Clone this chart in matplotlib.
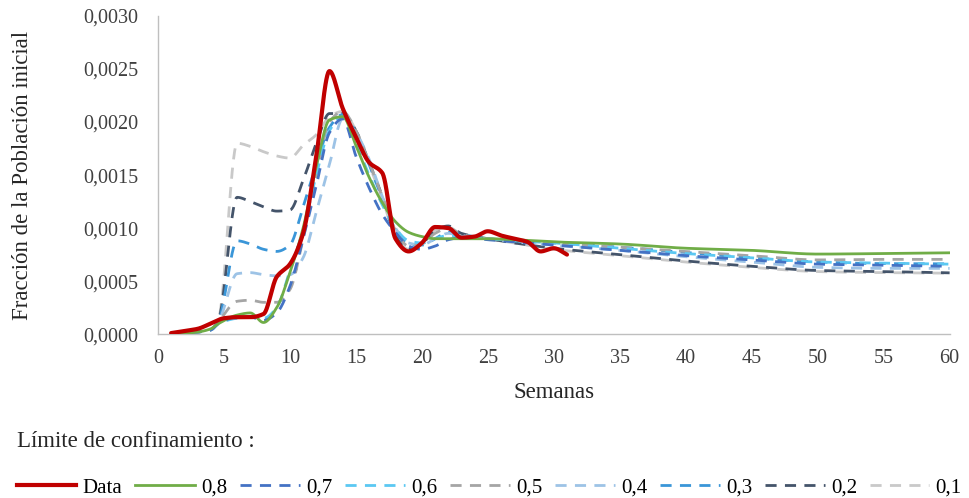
import numpy as np
import matplotlib
matplotlib.use("Agg")
import matplotlib.pyplot as plt
from matplotlib.lines import Line2D

plt.rcParams["font.family"] = ["Liberation Serif", "DejaVu Serif"]

# Observed weekly data (fraction of the initial population)
weeks_data = list(range(1, 32))
data_values = [0.00001, 0.00003, 0.00005, 0.00010, 0.00015, 0.00016, 0.00016, 0.00019,
               0.00054, 0.00066, 0.00095, 0.00168, 0.00248, 0.00213, 0.00186, 0.00162,
               0.00152, 0.00090, 0.00078, 0.00086, 0.00101, 0.00100, 0.00091, 0.00092,
               0.00097, 0.00093, 0.00090, 0.00087, 0.00078, 0.00081, 0.00075]

# Simulation grid (weeks)
weeks_sim = [1, 2, 3, 4, 4.6, 6, 7, 8, 9, 10, 11, 12, 13, 14, 15, 16, 17, 18, 19, 20,
             21, 22, 23, 25, 27, 30, 35, 40, 45, 50, 55, 60]

# Simulated curves for each lockdown threshold
sim_08 = [0.00001, 0.00001, 0.00002, 0.00005, 0.00010, 0.00018, 0.00020, 0.00011, 0.00025,
          0.00058, 0.00100, 0.00158, 0.00202, 0.00205, 0.00178, 0.00148, 0.00124, 0.00106,
          0.00096, 0.00092, 0.00090, 0.00090, 0.00090, 0.00090, 0.00089, 0.00087, 0.00085,
          0.00081, 0.00079, 0.000755, 0.00076, 0.000767]
sim_07 = [0.00001, 0.00001, 0.00002, 0.00004, 0.00010, 0.00016, 0.00016, 0.00013, 0.00020,
          0.00045, 0.00090, 0.00140, 0.00190, 0.00203, 0.00168, 0.00138, 0.00113, 0.00096,
          0.00083, 0.00080, 0.00083, 0.00089, 0.00091, 0.00089, 0.00087, 0.00084, 0.00079,
          0.00074, 0.00070, 0.00066, 0.00065, 0.00064]
sim_06 = [0.00001, 0.00001, 0.00002, 0.00004, 0.00010, 0.00015, 0.00016, 0.00015, 0.00025,
          0.00060, 0.00098, 0.00150, 0.00192, 0.00205, 0.00180, 0.00150, 0.00122, 0.00100,
          0.00088, 0.00086, 0.00090, 0.00093, 0.00092, 0.00090, 0.00088, 0.00086, 0.00081,
          0.00076, 0.00072, 0.00068, 0.00067, 0.00066]
sim_05 = [0.00001, 0.00001, 0.00002, 0.00004, 0.00012, 0.00031, 0.00032, 0.00030, 0.00030,
          0.00042, 0.00090, 0.00150, 0.00200, 0.00210, 0.00192, 0.00162, 0.00130, 0.00098,
          0.00083, 0.00085, 0.00095, 0.00100, 0.00094, 0.00090, 0.00088, 0.00086, 0.00082,
          0.00078, 0.00074, 0.00070, 0.000705, 0.000705]
sim_04 = [0.00001, 0.00001, 0.00002, 0.00004, 0.00012, 0.00057, 0.00058, 0.00056, 0.00055,
          0.00056, 0.00072, 0.00115, 0.00160, 0.00203, 0.00190, 0.00165, 0.00130, 0.00100,
          0.00086, 0.00084, 0.00090, 0.00095, 0.00093, 0.00090, 0.00087, 0.00084, 0.00079,
          0.00073, 0.00068, 0.00063, 0.00062, 0.00062]
sim_03 = [0.00001, 0.00001, 0.00002, 0.00004, 0.00013, 0.00088, 0.00085, 0.00080, 0.00078,
          0.00084, 0.00120, 0.00160, 0.00195, 0.00207, 0.00190, 0.00160, 0.00128, 0.00098,
          0.00085, 0.00084, 0.00090, 0.00096, 0.00094, 0.00090, 0.00088, 0.00086, 0.00082,
          0.00077, 0.00072, 0.00068, 0.000665, 0.000663]
sim_02 = [0.00001, 0.00001, 0.00002, 0.00004, 0.00014, 0.00129, 0.00125, 0.00120, 0.00116,
          0.00117, 0.00145, 0.00180, 0.00208, 0.00208, 0.00192, 0.00162, 0.00130, 0.00093,
          0.00080, 0.00085, 0.00098, 0.00102, 0.00095, 0.00090, 0.00086, 0.00081, 0.00075,
          0.00069, 0.00064, 0.00060, 0.00059, 0.000578]
sim_01 = [0.00001, 0.00001, 0.00002, 0.00004, 0.00015, 0.00180, 0.00177, 0.00172, 0.00168,
          0.00166, 0.00178, 0.00188, 0.00205, 0.00210, 0.00192, 0.00160, 0.00128, 0.00092,
          0.00080, 0.00086, 0.00098, 0.00101, 0.00094, 0.00090, 0.00086, 0.00080, 0.00074,
          0.00068, 0.00063, 0.00059, 0.00058, 0.000575]

sim_labels = ["0,8", "0,7", "0,6", "0,5", "0,4", "0,3", "0,2", "0,1"]
sim_series = [sim_08, sim_07, sim_06, sim_05, sim_04, sim_03, sim_02, sim_01]
sim_colors = ["#70AD47", "#4472C4", "#5BC8F2", "#A5A5A5", "#9DC3E6", "#3A96D8",
              "#44546A", "#C9C9C9"]

x_ticks = list(range(0, 61, 5))
y_ticks = [0.0, 0.0005, 0.0010, 0.0015, 0.0020, 0.0025, 0.0030]


def smooth(x, y, n=30):
    """Monotone cubic (PCHIP) curve through the points, for a smoothed line."""
    x = np.asarray(x, float)
    y = np.asarray(y, float)
    h = np.diff(x)
    d = np.diff(y) / h
    m = np.zeros_like(y)
    m[0], m[-1] = d[0], d[-1]
    for k in range(1, len(x) - 1):
        if d[k - 1] * d[k] > 0:
            w1 = 2 * h[k] + h[k - 1]
            w2 = h[k] + 2 * h[k - 1]
            m[k] = (w1 + w2) / (w1 / d[k - 1] + w2 / d[k])
    xs, ys = [], []
    for k in range(len(x) - 1):
        t = np.linspace(0, 1, n, endpoint=False)
        h00 = 2 * t**3 - 3 * t**2 + 1
        h10 = t**3 - 2 * t**2 + t
        h01 = -2 * t**3 + 3 * t**2
        h11 = t**3 - t**2
        xs.append(x[k] + t * h[k])
        ys.append(h00 * y[k] + h10 * h[k] * m[k] + h01 * y[k + 1] + h11 * h[k] * m[k + 1])
    xs.append([x[-1]])
    ys.append([y[-1]])
    return np.concatenate(xs), np.concatenate(ys)


fig = plt.figure(figsize=(9.69, 4.98), dpi=100)
ax = fig.add_axes([0.163, 0.329, 0.817, 0.639])

handles = []
# Simulated scenarios, drawn from 0,1 up to 0,8 so the solid line sits on top
for label, vals, col in reversed(list(zip(sim_labels, sim_series, sim_colors))):
    sx, sy = smooth(weeks_sim, vals)
    if label == "0,8":
        ax.plot(sx, sy, color=col, lw=2.0, zorder=3)
    else:
        ax.plot(sx, sy, color=col, lw=2.0, dashes=(4, 3), zorder=2)

dx, dy = smooth(weeks_data, data_values)
ax.plot(dx, dy, color="#C00000", lw=3.0, zorder=4, solid_capstyle="round")

handles.append(Line2D([], [], color="#C00000", lw=3.0))
for label, col in zip(sim_labels, sim_colors):
    if label == "0,8":
        handles.append(Line2D([], [], color=col, lw=2.0))
    else:
        handles.append(Line2D([], [], color=col, lw=2.0, dashes=(4, 3)))

ax.set_xlim(0, 60)
ax.set_ylim(0, 0.003)
ax.set_xticks(x_ticks)
ax.set_yticks(y_ticks)
ax.set_xticklabels([str(v) for v in x_ticks])
ax.set_yticklabels([f"{v:.4f}".replace(".", ",") for v in y_ticks])
ax.tick_params(axis="both", length=0, labelsize=14.5, colors="#404040")
ax.tick_params(axis="y", pad=14)
ax.tick_params(axis="x", pad=11)
for s in ["top", "right"]:
    ax.spines[s].set_visible(False)
for s in ["left", "bottom"]:
    ax.spines[s].set_color("#BFBFBF")
    ax.spines[s].set_linewidth(1.0)

ax.set_xlabel("Semanas", fontsize=16.5, color="#262626", labelpad=10)
ax.set_ylabel("Fracción de la Población inicial", fontsize=16.5, color="#262626")
ax.yaxis.set_label_coords(-0.158, 0.5)

fig.text(0.018, 1 - 441 / 498, "Límite de confinamiento :", fontsize=16.5,
         color="#262626", ha="left", va="center")

fig.legend(handles, ["Data"] + sim_labels, loc="center left", ncol=9,
           bbox_to_anchor=(0.0175, 1 - 488 / 498), frameon=False, fontsize=15,
           handlelength=2.85, handletextpad=0.3, columnspacing=0.63, borderpad=0,
           borderaxespad=0)

fig.savefig("out.png", dpi=100)
